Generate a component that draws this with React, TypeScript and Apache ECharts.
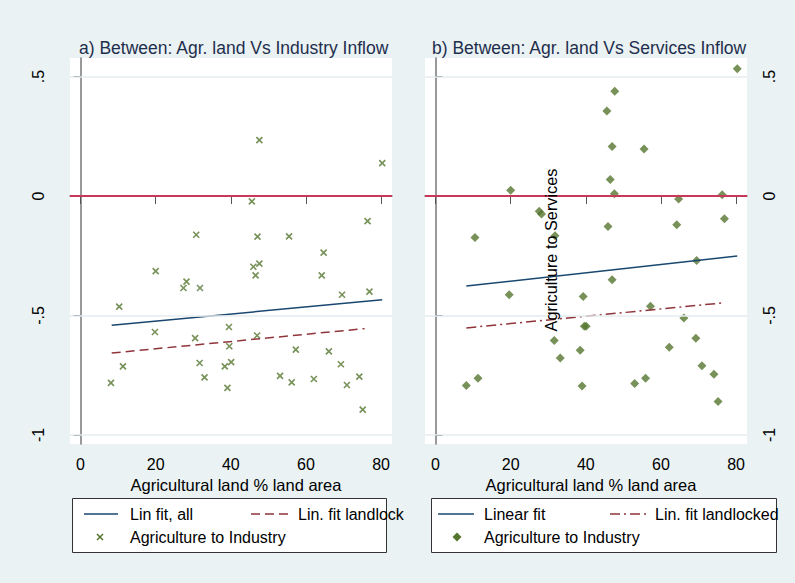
import React, { useEffect, useRef } from "react";
import * as echarts from "echarts";

const xTicks = [0, 20, 40, 60, 80];
const yTicks = [-1, -0.5, 0, 0.5];
const yTickLabels: Record<string, string> = { "-1": "-1", "-0.5": "-.5", "0": "0", "0.5": ".5" };

const industryPoints: number[][] = [
  [47.6, 0.234], [80.3, 0.138], [45.6, -0.022], [76.4, -0.105], [30.8, -0.162], [47.1, -0.17],
  [55.5, -0.169], [64.7, -0.237], [20.0, -0.314], [46.0, -0.296], [47.6, -0.283], [46.6, -0.332],
  [64.2, -0.332], [28.2, -0.358], [27.4, -0.385], [31.8, -0.385], [69.6, -0.413], [76.9, -0.4],
  [10.3, -0.463], [19.8, -0.569], [30.5, -0.595], [39.5, -0.548], [47.0, -0.584], [39.6, -0.629],
  [57.3, -0.643], [66.1, -0.65], [11.3, -0.713], [31.7, -0.699], [38.4, -0.713], [40.1, -0.695],
  [69.3, -0.704], [33.0, -0.759], [53.1, -0.753], [62.1, -0.766], [74.2, -0.756], [8.1, -0.782],
  [56.2, -0.78], [70.9, -0.791], [39.1, -0.803], [75.1, -0.894],
];
const industryFitAll: number[][] = [[8.3, -0.541], [80.3, -0.434]];
const industryFitLandlocked: number[][] = [[8.3, -0.657], [75.6, -0.555]];

const servicesPoints: number[][] = [
  [80.3, 0.533], [47.7, 0.439], [45.6, 0.356], [47.0, 0.208], [55.5, 0.197], [46.5, 0.069],
  [20.0, 0.024], [47.6, 0.01], [76.3, 0.006], [64.7, -0.012], [27.6, -0.064], [28.2, -0.075],
  [76.9, -0.095], [45.9, -0.127], [64.2, -0.12], [10.5, -0.174], [31.8, -0.166], [69.5, -0.27],
  [47.0, -0.35], [19.6, -0.413], [39.3, -0.421], [57.2, -0.461], [66.1, -0.511],
  [39.6, -0.545], [40.1, -0.545], [31.6, -0.605], [69.3, -0.595], [62.2, -0.633], [38.5, -0.646],
  [33.2, -0.678], [70.9, -0.71], [74.1, -0.746], [11.3, -0.763], [55.9, -0.763], [53.0, -0.785],
  [8.2, -0.793], [39.0, -0.795], [75.2, -0.86],
];
const servicesFitAll: number[][] = [[8.2, -0.377], [80.3, -0.251]];
const servicesFitLandlocked: number[][] = [[8.2, -0.552], [76.6, -0.447]];

const titleA = "a) Between: Agr. land Vs Industry Inflow";
const titleB = "b) Between: Agr. land Vs Services Inflow";
const xTitle = "Agricultural land % land area";
const yTitleB = "Agriculture to Services";

const BG = "#EAF2F3";
const NAVY = "#1A476F";
const MAROON = "#90353B";
const GREEN = "#55752F";
const ZERO = "#C8385A";
const FONT = "Liberation Sans, Arial, sans-serif";

export default function App() {
  const ref = useRef<HTMLDivElement>(null);
  useEffect(() => {
    if (!ref.current) return;
    const chart = echarts.init(ref.current, undefined, { renderer: "svg" });

    const mkX = (gi: number) => ({
      type: "value",
      gridIndex: gi,
      min: -2.8,
      max: 82.9,
      name: xTitle,
      nameLocation: "middle",
      nameGap: 27,
      nameTextStyle: { fontSize: 16.5, color: "#000", fontFamily: FONT, padding: [0, 0, 0, 10] },
      axisLine: { show: true, lineStyle: { color: "#777", width: 1.5 } },
      axisTick: { show: true, length: 8, customValues: xTicks, lineStyle: { color: "#555" } },
      axisLabel: {
        customValues: xTicks,
        fontSize: 16,
        color: "#000",
        fontFamily: FONT,
        margin: 12,
      },
      splitLine: { show: false },
    });
    const mkY = (gi: number, pos: string, margin: number) => ({
      type: "value",
      gridIndex: gi,
      position: pos,
      min: -1.038,
      max: 0.578,
      axisLine: { show: true, lineStyle: { color: "#777", width: 1.5 } },
      axisTick: { show: true, length: 7, customValues: yTicks, lineStyle: { color: "#333" } },
      axisLabel: {
        customValues: yTicks,
        rotate: 90,
        fontSize: 16,
        color: "#000",
        fontFamily: FONT,
        margin,
        formatter: (v: number) => yTickLabels[String(v)] ?? String(v),
      },
      splitLine: { show: false },
    });

    const refLines = () => ({
      silent: true,
      symbol: "none",
      label: { show: false },
      data: [
        { yAxis: 0.5, lineStyle: { color: "#E4EDEF", width: 1.5, type: "solid" } },
        { yAxis: -0.5, lineStyle: { color: "#E4EDEF", width: 1.5, type: "solid" } },
        { yAxis: -1, lineStyle: { color: "#E4EDEF", width: 1.5, type: "solid" } },
        { yAxis: 0, lineStyle: { color: ZERO, width: 2, type: "solid" } },
      ],
    });

    const crossPath = "path://M0,0L10,10M10,0L0,10";
    const legendText = { fontSize: 16, fill: "#000", fontFamily: FONT, verticalAlign: "middle" };

    const option: any = {
      animation: false,
      backgroundColor: BG,
      title: [
        { text: titleA, left: 74, top: 34, textStyle: { fontSize: 17.5, fontWeight: "normal", color: "#1F2E4D", fontFamily: FONT } },
        { text: titleB, left: 427, top: 34, textStyle: { fontSize: 17.5, fontWeight: "normal", color: "#1F2E4D", fontFamily: FONT } },
      ],
      grid: [
        { left: 70, top: 58, width: 322, height: 386, show: true, backgroundColor: "#fff", borderWidth: 0 },
        { left: 425, top: 58, width: 322, height: 386, show: true, backgroundColor: "#fff", borderWidth: 0 },
      ],
      xAxis: [mkX(0), mkX(1)],
      yAxis: [mkY(0, "left", 24), mkY(1, "right", 14)],
      series: [
        { type: "line", xAxisIndex: 0, yAxisIndex: 0, data: [], markLine: refLines(), z: 1 },
        { type: "line", xAxisIndex: 1, yAxisIndex: 1, data: [], markLine: refLines(), z: 1 },
        {
          name: "Agriculture to Industry",
          type: "scatter",
          xAxisIndex: 0,
          yAxisIndex: 0,
          data: industryPoints,
          symbol: crossPath,
          symbolSize: 6,
          clip: false,
          itemStyle: { color: "rgba(0,0,0,0)", borderColor: GREEN, borderWidth: 1.6 },
          z: 3,
        },
        {
          name: "Lin fit, all",
          type: "line",
          xAxisIndex: 0,
          yAxisIndex: 0,
          data: industryFitAll,
          showSymbol: false,
          clip: false,
          lineStyle: { color: NAVY, width: 1.5 },
          z: 4,
        },
        {
          name: "Lin. fit landlocked",
          type: "line",
          xAxisIndex: 0,
          yAxisIndex: 0,
          data: industryFitLandlocked,
          showSymbol: false,
          clip: false,
          lineStyle: { color: MAROON, width: 1.5, type: [9, 5] },
          z: 4,
        },
        {
          name: "Agriculture to Industry (b)",
          type: "scatter",
          xAxisIndex: 1,
          yAxisIndex: 1,
          data: servicesPoints,
          symbol: "diamond",
          symbolSize: [9, 9],
          clip: false,
          itemStyle: { color: GREEN },
          z: 3,
        },
        {
          name: "Linear fit",
          type: "line",
          xAxisIndex: 1,
          yAxisIndex: 1,
          data: servicesFitAll,
          showSymbol: false,
          clip: false,
          lineStyle: { color: NAVY, width: 1.5 },
          z: 4,
        },
        {
          name: "Lin. fit landlocked (b)",
          type: "line",
          xAxisIndex: 1,
          yAxisIndex: 1,
          data: servicesFitLandlocked,
          showSymbol: false,
          clip: false,
          lineStyle: { color: MAROON, width: 1.5, type: [10, 4, 2, 4] },
          z: 4,
        },
      ],
      graphic: [
        {
          type: "text",
          x: 551,
          y: 250,
          rotation: Math.PI / 2,
          z: 10,
          style: { text: yTitleB, fontSize: 16.3, fill: "#000", fontFamily: FONT, align: "center", verticalAlign: "middle" },
        },
        // left legend
        { type: "rect", shape: { x: 72.5, y: 498.5, width: 314, height: 54 }, style: { fill: "#fff", stroke: "#333", lineWidth: 1 } },
        { type: "line", shape: { x1: 84, y1: 514, x2: 118, y2: 514 }, style: { stroke: NAVY, lineWidth: 1.5 } },
        { type: "text", x: 130, y: 514, style: { ...legendText, text: "Lin fit, all" } },
        { type: "line", shape: { x1: 251, y1: 514, x2: 289, y2: 514 }, style: { stroke: MAROON, lineWidth: 1.5, lineDash: [9, 5] } },
        {
          type: "text", x: 298, y: 514, z: 5,
          style: { ...legendText, text: "Lin. fit landlocked", width: 116, overflow: "truncate", ellipsis: "" },
        },
        { type: "line", shape: { x1: 97, y1: 534, x2: 103, y2: 540 }, style: { stroke: GREEN, lineWidth: 1.5 } },
        { type: "line", shape: { x1: 103, y1: 534, x2: 97, y2: 540 }, style: { stroke: GREEN, lineWidth: 1.5 } },
        { type: "text", x: 130, y: 537, style: { ...legendText, text: "Agriculture to Industry" } },
        // right legend
        { type: "rect", shape: { x: 431.5, y: 498.5, width: 345, height: 54 }, style: { fill: "#fff", stroke: "#333", lineWidth: 1 } },
        { type: "line", shape: { x1: 438, y1: 514, x2: 474, y2: 514 }, style: { stroke: NAVY, lineWidth: 1.5 } },
        { type: "text", x: 484, y: 514, style: { ...legendText, text: "Linear fit" } },
        { type: "line", shape: { x1: 610, y1: 514, x2: 646, y2: 514 }, style: { stroke: MAROON, lineWidth: 1.5, lineDash: [10, 4, 2, 4] } },
        { type: "text", x: 655, y: 514, style: { ...legendText, text: "Lin. fit landlocked" } },
        { type: "polygon", shape: { points: [[457, 532.5], [461.5, 537], [457, 541.5], [452.5, 537]] }, style: { fill: GREEN } },
        { type: "text", x: 484, y: 537, style: { ...legendText, text: "Agriculture to Industry" } },
      ],
    };
    chart.setOption(option);
    return () => chart.dispose();
  }, []);
  return (
    <div
      ref={ref}
      style={{ position: "fixed", left: 0, top: 0, width: 795, height: 583 }}
    />
  );
}
